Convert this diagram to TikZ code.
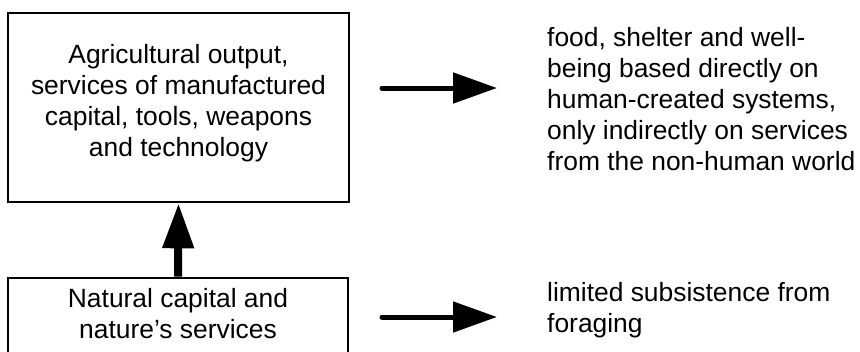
\documentclass[tikz,border=0pt]{standalone}
\usepackage{fontspec}
\setmainfont{Liberation Sans}
\usetikzlibrary{arrows.meta}
\begin{document}
\begin{tikzpicture}[x=1pt,y=-1pt,
  every node/.style={font=\fontsize{26.4}{31}\selectfont, inner sep=0pt},
  frame/.style={draw, line width=2.6pt, inner sep=0pt},
  label/.style={align=center},
  side/.style={align=left, anchor=west},
  flow/.style={line width=5pt, line cap=round, -{Triangle[length=44pt, width=30pt]}},
  rise/.style={line width=8pt, -{Triangle[length=45pt, width=30pt]}}]
  \useasboundingbox (0,0) rectangle (860,351);
  \clip (0,0) rectangle (860,351);

  % boxes
  \node[frame, minimum width=341pt, minimum height=189pt] (topbox) at (178.5,107.5) {};
  \node[frame, minimum width=340pt, minimum height=120pt] (botbox) at (178,338) {};

  % box texts
  \node[label] (toptext) at (178.5,103) {Agricultural output,\\services of manufactured\\capital, tools, weapons\\and technology};
  \node[label] (bottext) at (178,314) {Natural capital and\\nature’s services};

  % outcome texts
  \node[side] (topout) at (547,99.5) {food, shelter and well-\\being based directly on\\human-created systems,\\only indirectly on services\\from the non-human world};
  \node[side] (botout) at (547,310.5) {limited subsistence from\\foraging};

  % connectors
  \coordinate (a1s) at (382,88);
  \coordinate (a1e) at (497,88);
  \coordinate (a2s) at (382,317);
  \coordinate (a2e) at (497,317);
  \draw[flow] (a1s) -- (a1e);
  \draw[flow] (a2s) -- (a2e);
  \draw[rise] (botbox.north) -- (topbox.south);
\end{tikzpicture}
\end{document}
